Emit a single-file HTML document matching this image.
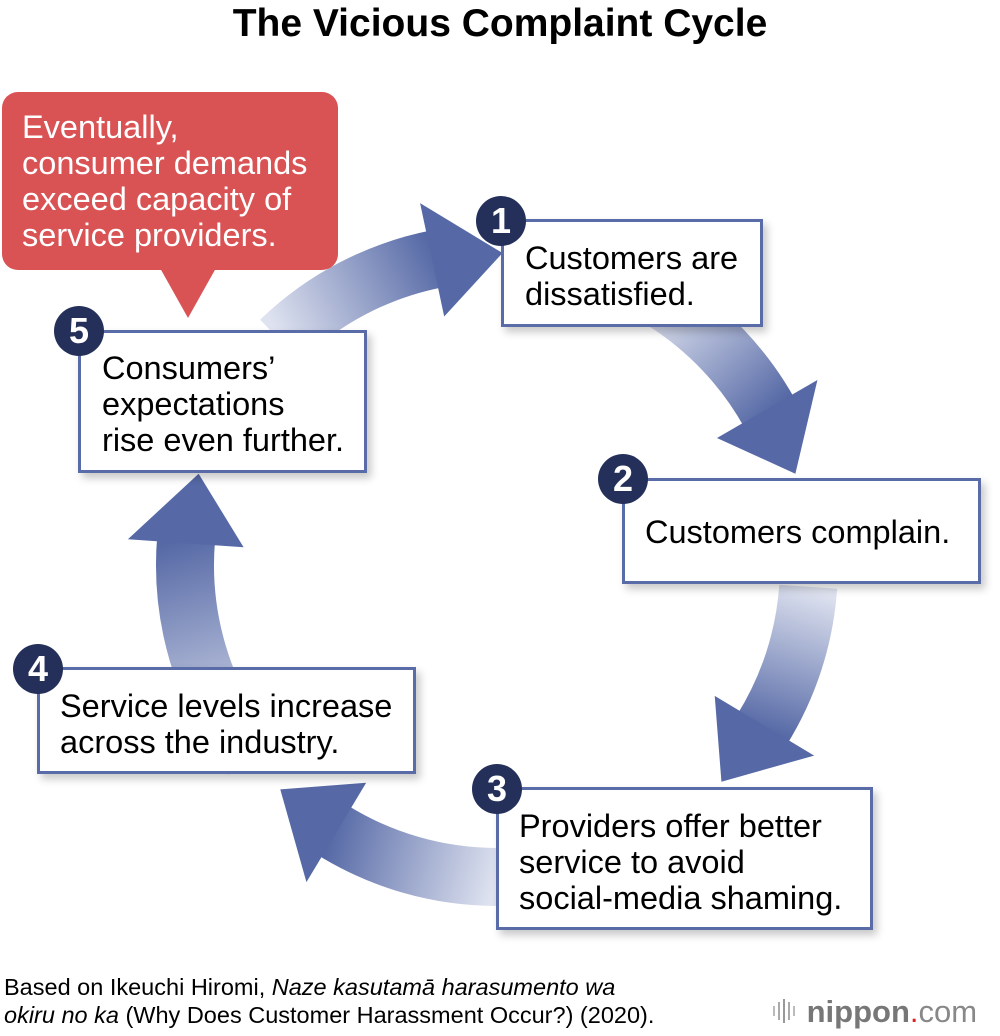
<!DOCTYPE html>
<html><head><meta charset="utf-8"><style>
body{margin:0;width:1000px;height:1036px;background:#fff;position:relative;overflow:hidden;font-family:"Liberation Sans",Arial,sans-serif;}
.t{position:absolute;left:0;width:1000px;top:2px;text-align:center;font-weight:bold;font-size:39px;color:#000;}
.box{position:absolute;background:#fff;border:3px solid #5a6ca8;box-sizing:border-box;box-shadow:4px 5px 8px rgba(0,0,0,0.22);font-size:32.5px;line-height:36px;color:#000;white-space:nowrap;}
.num{position:absolute;width:50px;height:50px;border-radius:50%;background:#24305a;color:#fff;font-weight:bold;font-size:36px;line-height:50px;text-align:center;}
.call{position:absolute;left:2px;top:92px;width:336px;height:178px;background:#d95355;border-radius:16px;color:#fff;font-size:32.5px;line-height:36px;padding:17px 0 0 20px;box-sizing:border-box;white-space:nowrap;}
.foot{position:absolute;left:4px;top:973px;font-size:23.5px;line-height:28px;color:#000;white-space:nowrap;}
.logo{position:absolute;left:772px;top:994px;font-size:31px;color:#777;white-space:nowrap;}
</style></head><body>
<div class="t">The Vicious Complaint Cycle</div>
<svg id="s" width="1000" height="1036" style="position:absolute;left:0;top:0">
<polygon points="160,268 216,268 188,318" fill="#d95355"/>
</svg>
<div class="call">Eventually,<br>consumer demands<br>exceed capacity of<br>service providers.</div>
<div class="box" style="left:501px;top:219px;width:262px;height:108px;padding:18px 0 0 21px">Customers are<br>dissatisfied.</div>
<div class="num" style="left:476px;top:196px">1</div>
<div class="box" style="left:622px;top:478px;width:359px;height:106px;padding:33px 0 0 20px">Customers complain.</div>
<div class="num" style="left:598px;top:454px">2</div>
<div class="box" style="left:496px;top:787px;width:377px;height:143px;padding:18px 0 0 20px">Providers offer better<br>service to avoid<br>social-media shaming.</div>
<div class="num" style="left:472px;top:764px">3</div>
<div class="box" style="left:37px;top:667px;width:379px;height:107px;padding:18px 0 0 20px">Service levels increase<br>across the industry.</div>
<div class="num" style="left:13px;top:644px">4</div>
<div class="box" style="left:78px;top:330px;width:289px;height:143px;padding:17px 0 0 21px">Consumers’<br>expectations<br>rise even further.</div>
<div class="num" style="left:54px;top:306px">5</div>
<div class="foot">Based on Ikeuchi Hiromi, <i>Naze kasutamā harasumento wa<br>okiru no ka</i> (Why Does Customer Harassment Occur?) (2020).</div>
<div class="logo"><svg width="26" height="28" style="vertical-align:-3px"><rect x="1" y="9" width="2" height="10" fill="#bbb"/><rect x="6" y="5" width="2" height="18" fill="#aaa"/><rect x="11" y="2" width="2" height="24" fill="#999"/><rect x="16" y="5" width="2" height="18" fill="#aaa"/><rect x="21" y="9" width="2" height="10" fill="#bbb"/></svg> <b style="color:#777">nippon</b><span style="color:#e02020">.</span><span style="color:#888">com</span></div>
<script>
var s=document.getElementById('s');
var cx=497,cy=565,r=312,w=58;
function P(a,rr){var t=a*Math.PI/180;return [cx+rr*Math.cos(t),cy+rr*Math.sin(t)];}
var arrows=[[-58,-17],[4,44],[90,134],[142,197],[226,271]];
var html='';
arrows.forEach(function(a,i){
 var tail=a[0],tip=a[1],base=tip-13;
 var p0=P(tail,r),p1=P(base+1,r),pt=P(tip,r),b1=P(base,r-58),b2=P(base,r+58);
 html+='<linearGradient id="g'+i+'" gradientUnits="userSpaceOnUse" x1="'+p0[0]+'" y1="'+p0[1]+'" x2="'+p1[0]+'" y2="'+p1[1]+'"><stop offset="0" stop-color="#dfe3f0"/><stop offset="1" stop-color="#5669a6"/></linearGradient>';
 html+='<path d="M'+p0[0]+' '+p0[1]+' A'+r+' '+r+' 0 0 1 '+p1[0]+' '+p1[1]+'" fill="none" stroke="url(#g'+i+')" stroke-width="'+w+'"/>';
 html+='<polygon points="'+b1.join(',')+' '+b2.join(',')+' '+pt.join(',')+'" fill="#5669a6"/>';
});
s.insertAdjacentHTML('beforeend',html);
</script>
</body></html>
